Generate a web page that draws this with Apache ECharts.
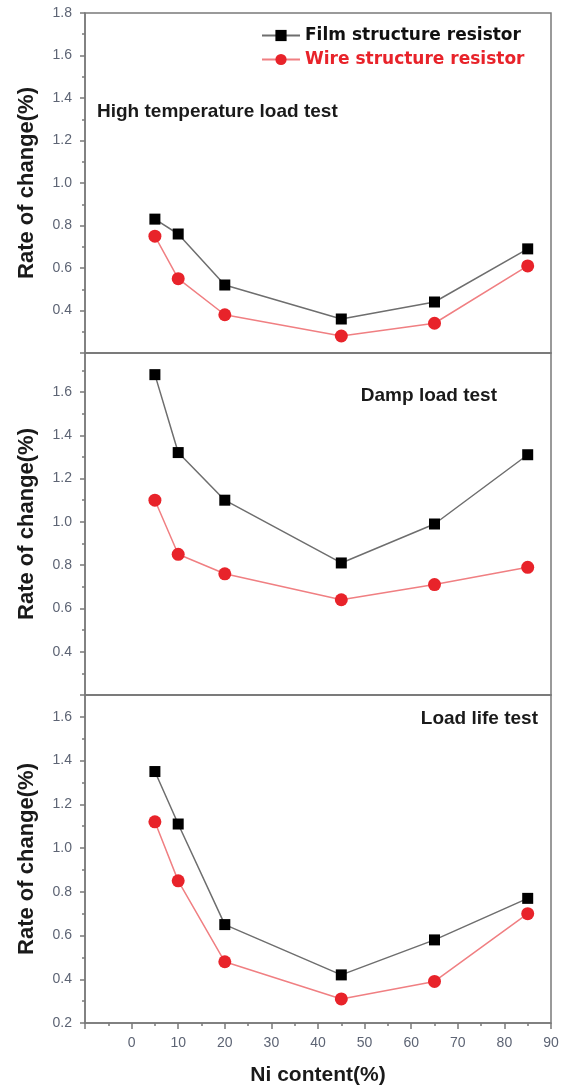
<!DOCTYPE html>
<html>
<head>
    <meta charset="utf-8">
    <title>Ni content</title>
    <script src="https://cdn.jsdelivr.net/npm/echarts@6/dist/echarts.min.js"></script>
    <style>
        html, body { margin: 0; padding: 0; background: #ffffff; }
        #chart { width: 565px; height: 1089px; }
    </style>
</head>
<body>
    <div id="chart"></div>
    <script>
        // Ni content (%) for every test
        var niContent = [5, 10, 20, 45, 65, 85];

        // high temperature load test
        var highFilm = [0.83, 0.76, 0.52, 0.36, 0.44, 0.69];
        var highWire = [0.75, 0.55, 0.38, 0.28, 0.34, 0.61];
        // damp load test
        var dampFilm = [1.68, 1.32, 1.10, 0.81, 0.99, 1.31];
        var dampWire = [1.10, 0.85, 0.76, 0.64, 0.71, 0.79];
        // load life test
        var lifeFilm = [1.35, 1.11, 0.65, 0.42, 0.58, 0.77];
        var lifeWire = [1.12, 0.85, 0.48, 0.31, 0.39, 0.70];

        var panelTitles = ['High temperature load test', 'Damp load test', 'Load life test'];
        var seriesNames = ['Film structure resistor', 'Wire structure resistor'];

        function pairs(xs, ys) {
            return xs.map(function (x, i) { return [x, ys[i]]; });
        }

        var frameColor = '#7a7a7a';
        var labelColor = '#5d6474';
        var fontFamily = 'Liberation Sans, Arial, sans-serif';
        var legendFont = 'DejaVu Sans, sans-serif';

        var grids = [
            {left: 85, right: 14, top: 13, height: 340},
            {left: 85, right: 14, top: 353, height: 342},
            {left: 85, right: 14, top: 695, height: 328}
        ];

        function xAxisFor(idx, showLabels) {
            return {
                type: 'value', gridIndex: idx, min: -10, max: 90, interval: 10,
                axisLine: {show: true, onZero: false, lineStyle: {color: frameColor, width: 1.5}},
                axisTick: {show: showLabels, length: 6, lineStyle: {color: frameColor, width: 1.5}},
                minorTick: {show: showLabels, splitNumber: 2, length: 3, lineStyle: {color: frameColor, width: 1.5}},
                splitLine: {show: false},
                axisLabel: {
                    show: showLabels, showMinLabel: false, color: labelColor,
                    fontSize: 14, fontFamily: fontFamily, margin: 13
                },
                name: showLabels ? 'Ni content(%)' : '',
                nameLocation: 'middle', nameGap: 42,
                nameTextStyle: {fontSize: 21, fontWeight: 'bold', color: '#1a1a1a', fontFamily: fontFamily}
            };
        }

        function yAxisFor(idx, max, showMin) {
            return {
                type: 'value', gridIndex: idx, min: 0.2, max: max, interval: 0.2,
                axisLine: {show: true, onZero: false, lineStyle: {color: frameColor, width: 1.5}},
                axisTick: {show: true, length: 5, lineStyle: {color: frameColor, width: 1.5}},
                minorTick: {show: true, splitNumber: 2, length: 3, lineStyle: {color: frameColor, width: 1.5}},
                splitLine: {show: false},
                axisLabel: {
                    showMinLabel: showMin, showMaxLabel: max === 1.8, color: labelColor,
                    fontSize: 14, fontFamily: fontFamily, margin: 13,
                    formatter: function (v) { return v.toFixed(1); }
                },
                name: 'Rate of change(%)', nameLocation: 'middle', nameGap: 47,
                nameTextStyle: {fontSize: 22, fontWeight: 'bold', color: '#1a1a1a', fontFamily: fontFamily}
            };
        }

        function filmSeries(idx, ys) {
            return {
                name: seriesNames[0], type: 'line', xAxisIndex: idx, yAxisIndex: idx,
                data: pairs(niContent, ys),
                symbol: 'rect', symbolSize: 11,
                itemStyle: {color: '#000000'},
                lineStyle: {color: '#6e6e6e', width: 1.5},
                z: 3
            };
        }

        function wireSeries(idx, ys) {
            return {
                name: seriesNames[1], type: 'line', xAxisIndex: idx, yAxisIndex: idx,
                data: pairs(niContent, ys),
                symbol: 'circle', symbolSize: 13,
                itemStyle: {color: '#e8232a'},
                lineStyle: {color: '#f07f82', width: 1.5},
                z: 2
            };
        }

        var titleStyle = {fontSize: 19, fontWeight: 'bold', color: '#1a1a1a', fontFamily: fontFamily};

        var chart = echarts.init(document.getElementById('chart'));
        var option = {
            animation: false,
            backgroundColor: '#ffffff',
            grid: grids.map(function (g) {
                return Object.assign({show: true, borderColor: frameColor, borderWidth: 1.5, backgroundColor: 'transparent'}, g);
            }),
            title: [
                {text: panelTitles[0], left: 97, top: 102, padding: 0, textStyle: titleStyle},
                {text: panelTitles[1], right: 68, top: 386, padding: 0, textStyle: titleStyle},
                {text: panelTitles[2], right: 27, top: 709, padding: 0, textStyle: titleStyle}
            ],
            legend: {
                orient: 'vertical', left: 256, top: 22, itemGap: 7,
                itemWidth: 38, itemHeight: 14,
                textStyle: {fontSize: 17, fontWeight: 'bold', fontFamily: legendFont},
                data: [
                    {name: seriesNames[0], textStyle: {color: '#111111'}},
                    {name: seriesNames[1], textStyle: {color: '#e8232a'}}
                ]
            },
            xAxis: [xAxisFor(0, false), xAxisFor(1, false), xAxisFor(2, true)],
            yAxis: [yAxisFor(0, 1.8, false), yAxisFor(1, 1.78, false), yAxisFor(2, 1.7, true)],
            series: [
                filmSeries(0, highFilm), wireSeries(0, highWire),
                filmSeries(1, dampFilm), wireSeries(1, dampWire),
                filmSeries(2, lifeFilm), wireSeries(2, lifeWire)
            ]
        };
        chart.setOption(option);
    </script>
</body>
</html>
